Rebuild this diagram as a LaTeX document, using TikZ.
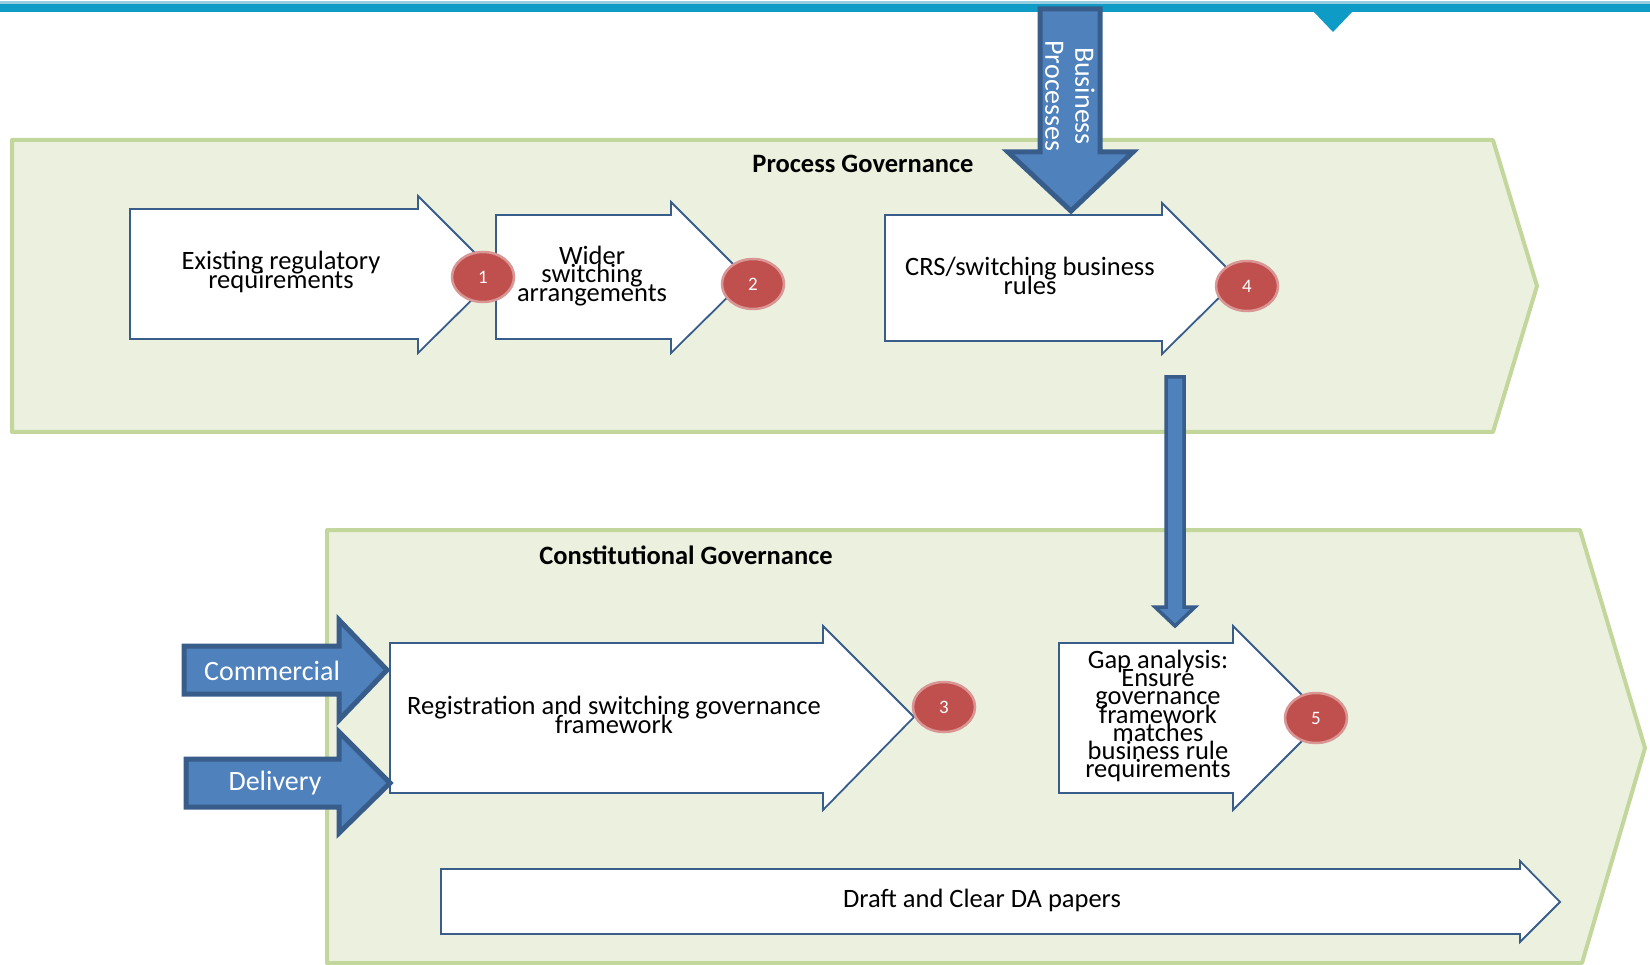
\documentclass[tikz,border=0pt]{standalone}
\usepackage{fontspec}
\setmainfont{Carlito}
\usetikzlibrary{shapes.geometric}
\definecolor{panelfill}{RGB}{235,241,222}
\definecolor{panelline}{RGB}{195,214,155}
\definecolor{navy}{RGB}{56,93,138}
\definecolor{blueF}{RGB}{79,129,189}
\definecolor{badgeF}{RGB}{192,80,77}
\definecolor{badgeL}{RGB}{217,150,148}
\definecolor{topline}{RGB}{14,155,197}
\definecolor{toplight}{RGB}{150,205,225}
\newcommand\mytightlines{\lineskiplimit=-100pt\relax\lineskip=0pt\relax}
\begin{document}
\begin{tikzpicture}[x=1pt,y=-1pt,
  panel/.style={fill=panelfill,draw=panelline,line width=4pt,line join=round},
  whitearrow/.style={fill=white,draw=navy,line width=1.8pt,line join=miter},
  bluearrow/.style={fill=blueF,draw=navy,line width=5pt,line join=miter},
  thinarrow/.style={fill=blueF,draw=navy,line width=3.5pt,line join=miter},
  badge/.style={ellipse,fill=badgeF,draw=badgeL,line width=2.5pt,minimum width=62pt,minimum height=50pt,inner sep=0pt,text=white,font=\fontsize{19}{19}\selectfont},
  lbl/.style={align=center,inner sep=0pt,font=\fontsize{26.5}{18.3}\selectfont\mytightlines},
  title/.style={inner sep=0pt,font=\fontsize{26.5}{26.5}\selectfont\bfseries},
  bluelbl/.style={inner sep=0pt,text=white,font=\fontsize{28}{30}\selectfont}]
\useasboundingbox (0,0) rectangle (1650,965);

% panels
\draw[panel] (12,140) -- (1493,140) -- (1537,286) -- (1493,432) -- (12,432) -- cycle;
\draw[panel] (327,530) -- (1580,530) -- (1645,748) -- (1582,963) -- (327,963) -- cycle;

% top rule and marker
\fill[toplight] (0,1) rectangle (1650,4);
\fill[topline] (0,4) rectangle (1650,12);
\fill[topline] (1313,11) -- (1353,11) -- (1333,32) -- cycle;

\node[title] (pg) at (863,164) {Process Governance};
\node[title] (cg) at (686,555) {Constitutional Governance};

% Business processes arrow
\draw[bluearrow] (1040,9) -- (1100,9) -- (1100,152) -- (1133,152) -- (1071,211) -- (1008,152) -- (1040,152) -- cycle;
\node[bluelbl,rotate=-90,align=center] (bp) at (1070,96) {Business\\Processes};

% process row
\draw[whitearrow] (130,209) -- (418,209) -- (418,196) -- (497,275) -- (418,353) -- (418,339) -- (130,339) -- cycle;
\node[lbl] (t1) at (281,272) {Existing regulatory\\requirements};
\draw[whitearrow] (496,215) -- (671,215) -- (671,202) -- (747,278) -- (671,353) -- (671,339) -- (496,339) -- cycle;
\node[lbl] (t2) at (592,276) {Wider\\switching\\arrangements};
\draw[whitearrow] (885,215) -- (1162,215) -- (1162,203) -- (1238,279) -- (1162,354) -- (1162,341) -- (885,341) -- cycle;
\node[lbl] (t4) at (1030,276) {CRS/switching business\\rules};
\node[badge] (b1) at (483,277) {1};
\node[badge] (b2) at (753,284) {2};
\node[badge] (b4) at (1247,286) {4};

% link arrow from rules to gap analysis
\draw[thinarrow] (1166,377) -- (1184,377) -- (1184,607) -- (1195,607) -- (1175,626) -- (1155,607) -- (1166,607) -- cycle;

% constitutional row
\draw[whitearrow] (390,643) -- (823,643) -- (823,626) -- (914,717) -- (823,810) -- (823,793) -- (390,793) -- cycle;
\node[lbl] (t3) at (614,715) {Registration and switching governance\\framework};
\draw[bluearrow] (184,646) -- (339,646) -- (339,620) -- (387,670) -- (339,720) -- (339,694) -- (184,694) -- cycle;
\node[bluelbl] (com) at (272,671) {Commercial};
\draw[bluearrow] (186,759) -- (339,759) -- (339,732) -- (390,783) -- (339,833) -- (339,807) -- (186,807) -- cycle;
\node[bluelbl] (del) at (275,783) {Delivery};
\draw[whitearrow] (1059,643) -- (1233,643) -- (1233,626) -- (1325,718) -- (1233,810) -- (1233,793) -- (1059,793) -- cycle;
\node[lbl] (t5) at (1158,716) {Gap analysis:\\Ensure\\governance\\framework\\matches\\business rule\\requirements};
\node[badge] (b3) at (944,707) {3};
\node[badge] (b5) at (1316,718) {5};

% draft arrow
\draw[whitearrow] (441,869) -- (1520,869) -- (1520,861) -- (1560,902) -- (1520,942) -- (1520,934) -- (441,934) -- cycle;
\node[lbl] (t6) at (982,900) {Draft and Clear DA papers};
\end{tikzpicture}
\end{document}
